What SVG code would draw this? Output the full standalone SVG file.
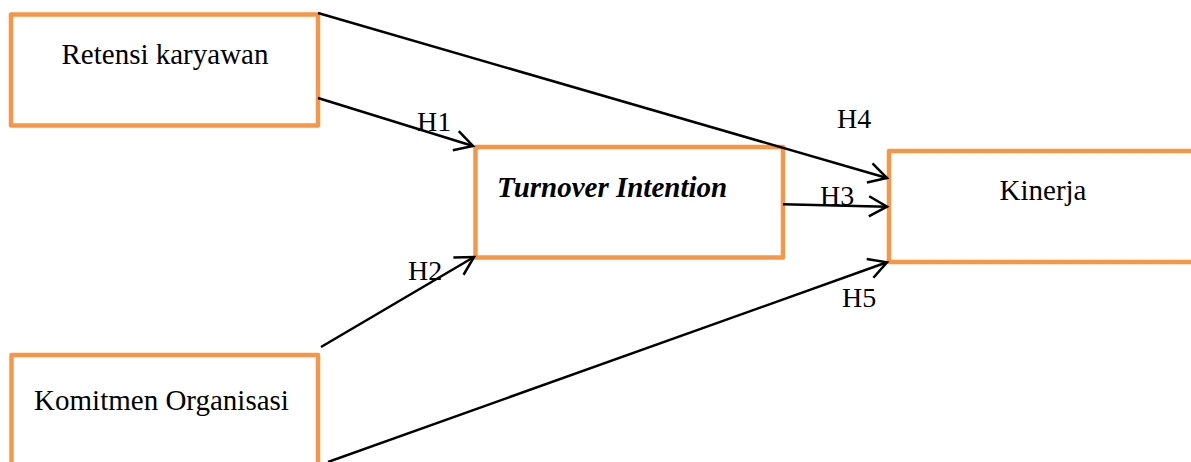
<svg xmlns="http://www.w3.org/2000/svg" width="1191" height="462" viewBox="0 0 1191 462">
<defs>
<style>
.box{fill:#fff;stroke:#F79646;stroke-width:4.5;stroke-linejoin:round}
.t{font-family:"Liberation Serif","Times New Roman",serif;font-size:29px;fill:#000}
.lbl{font-family:"Liberation Serif","Times New Roman",serif;font-size:28px;fill:#000}
.c{fill:none;stroke:#000;stroke-width:2.5}
</style>
<marker id="arr" markerUnits="userSpaceOnUse" markerWidth="24" markerHeight="24" refX="18" refY="10" orient="auto" overflow="visible">
<path d="M0,0 L18,10 L0,20" fill="none" stroke="#000" stroke-width="2.5"/>
</marker>
</defs>
<rect width="1191" height="462" fill="#fff"/>
<g id="node-retensi">
<rect class="box" x="11" y="14.5" width="307" height="111"/>
<text class="t" x="165" y="64" text-anchor="middle">Retensi karyawan</text>
</g>
<g id="node-turnover">
<rect class="box" x="475.5" y="147" width="307.5" height="110.5"/>
<text class="t" x="497" y="197" font-weight="bold" font-style="italic">Turnover Intention</text>
</g>
<g id="node-kinerja">
<rect class="box" x="889" y="151" width="330" height="111"/>
<text class="t" x="1043" y="200" text-anchor="middle">Kinerja</text>
</g>
<g id="node-komitmen">
<rect class="box" x="11.5" y="355" width="306.5" height="130"/>
<text class="t" x="161.5" y="410" text-anchor="middle">Komitmen Organisasi</text>
</g>
<g id="connectors">
<line class="c" x1="318" y1="13" x2="887" y2="178" marker-end="url(#arr)"/>
<line class="c" x1="318" y1="98" x2="473" y2="146" marker-end="url(#arr)"/>
<line class="c" x1="321" y1="347" x2="474" y2="257" marker-end="url(#arr)"/>
<line class="c" x1="783" y1="204.3" x2="887" y2="206.7" marker-end="url(#arr)"/>
<line class="c" x1="328" y1="462" x2="887" y2="262.3" marker-end="url(#arr)"/>
</g>
<g id="labels">
<text class="lbl" x="417" y="131">H1</text>
<text class="lbl" x="408" y="280">H2</text>
<text class="lbl" x="820" y="205">H3</text>
<text class="lbl" x="837" y="128">H4</text>
<text class="lbl" x="842" y="307">H5</text>
</g>
</svg>
